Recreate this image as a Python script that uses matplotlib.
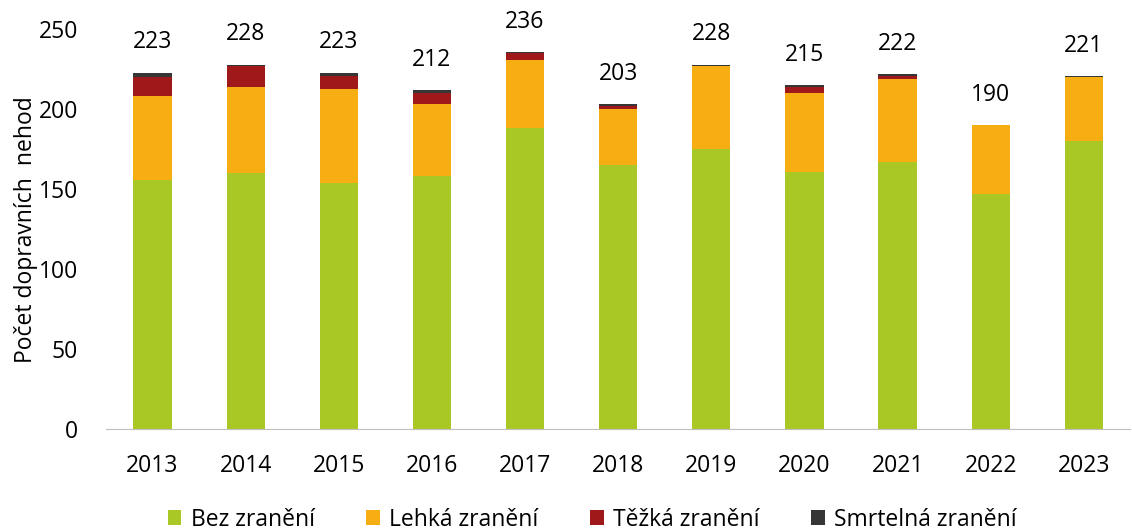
import matplotlib.pyplot as plt
import numpy as np

plt.rcParams['font.family'] = ['Open Sans', 'DejaVu Sans']

years = ['2013', '2014', '2015', '2016', '2017', '2018', '2019', '2020', '2021', '2022', '2023']
bez = [156, 160, 154, 158, 188, 165, 175, 161, 167, 147, 180]
lehka = [52, 54, 59, 45, 43, 35, 52, 49, 52, 43, 40]
tezka = [12, 13, 8, 7, 4, 2, 0, 4, 2, 0, 0]
smrt = [3, 1, 2, 2, 1, 1, 1, 1, 1, 0, 1]
totals = [223, 228, 223, 212, 236, 203, 228, 215, 222, 190, 221]

series = [
    ('Bez zranění', bez, '#A9C826'),
    ('Lehká zranění', lehka, '#F7AE12'),
    ('Těžká zranění', tezka, '#A0191A'),
    ('Smrtelná zranění', smrt, '#363636'),
]

fig = plt.figure(figsize=(11.32, 5.3), dpi=100)
ax = fig.add_axes([0.0936, 0.1906, 0.905, 0.754])

x = np.arange(len(years))
bottom = np.zeros(len(years))
for name, vals, col in series:
    ax.bar(x, vals, 0.41, bottom=bottom, color=col, label=name, linewidth=0)
    bottom += np.array(vals)

# popisky s celkovým počtem nad sloupci
for xi, t in zip(x, totals):
    ax.annotate(str(t), (xi, t), xytext=(0, 13), textcoords='offset points',
                ha='center', va='bottom', fontsize=16.5, annotation_clip=False)

ax.set_xlim(-0.5, len(years) - 0.5)
ax.set_ylim(0, 250)
ax.set_yticks(range(0, 251, 50))
ax.set_xticks(x)
ax.set_xticklabels(years)
ax.tick_params(axis='both', length=0, labelsize=16.5)
ax.tick_params(axis='x', pad=18)
ax.tick_params(axis='y', pad=20)
for s in ['top', 'right', 'left']:
    ax.spines[s].set_visible(False)
ax.spines['bottom'].set_color('#BFBFBF')
ax.set_ylabel('Počet dopravních  nehod', fontsize=16.5)
ax.yaxis.set_label_coords(-0.066, 0.5)

fig.legend(loc='lower center', bbox_to_anchor=(0.523, -0.042), ncol=4, frameon=False,
           fontsize=16.5, handlelength=0.6, handleheight=0.6, handletextpad=0.4,
           columnspacing=2.25)

fig.savefig('out.png', dpi=100)
